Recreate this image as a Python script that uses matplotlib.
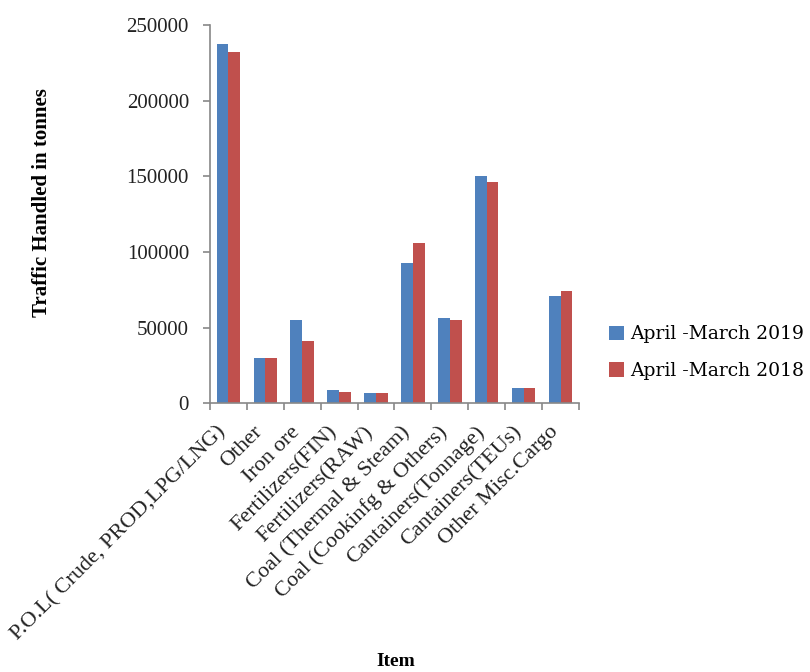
import numpy as np
import matplotlib
matplotlib.use('Agg')
import matplotlib.pyplot as plt
from matplotlib.transforms import ScaledTranslation

items = ['P.O.L( Crude, PROD,LPG/LNG)', 'Other', 'Iron ore', 'Fertilizers(FIN)',
         'Fertilizers(RAW)', 'Coal (Thermal & Steam)', 'Coal (Cookinfg & Others)',
         'Cantainers(Tonnage)', 'Cantainers(TEUs)', 'Other Misc.Cargo']
traffic_2019 = [237400, 30000, 55200, 8800, 6600, 92700, 56300, 150300, 9900, 70600]
traffic_2018 = [231900, 30000, 40800, 7700, 6600, 105900, 55200, 145900, 9900, 73900]
series_labels = ['April -March 2019', 'April -March 2018']
yticks = [0, 50000, 100000, 150000, 200000, 250000]

plt.rcParams['font.family'] = ['Liberation Serif', 'DejaVu Serif']

fig = plt.figure(figsize=(8.1, 6.72), dpi=100)
ax = fig.add_axes([0.259, 0.400, 0.456, 0.563])

x = np.arange(len(items))
w = 0.315
ax.bar(x - w / 2, traffic_2019, w, color='#4F81BD', label=series_labels[0])
ax.bar(x + w / 2, traffic_2018, w, color='#C0504D', label=series_labels[1])

ax.set_xlim(-0.5, len(items) - 0.5)
ax.set_ylim(0, 250000)
ax.set_yticks(yticks)
ax.set_yticklabels([str(v) for v in yticks], fontsize=15, color='#222222')

# category labels at the centres, ticks at the boundaries
ax.set_xticks(x)
labels = ax.set_xticklabels(items, rotation=45, ha='right', va='top', rotation_mode='anchor',
                            fontsize=16, color='#222222')
ax.tick_params(axis='x', length=0, pad=14)
shift = ScaledTranslation(-12 / 100, 0, fig.dpi_scale_trans)
for lab in labels:
    lab.set_transform(lab.get_transform() + shift)
ax.set_xticks(np.arange(len(items) + 1) - 0.5, minor=True)
ax.tick_params(axis='x', which='minor', length=5, color='#888888', width=1.2)
ax.tick_params(axis='y', length=5, color='#888888', width=1.2, pad=10)

for side in ['top', 'right']:
    ax.spines[side].set_visible(False)
for side in ['left', 'bottom']:
    ax.spines[side].set_color('#888888')
    ax.spines[side].set_linewidth(1.2)

fig.text(0.052, 0.698, 'Traffic Handled in tonnes', rotation=90, ha='center', va='center',
         fontsize=15, fontweight='bold')
fig.text(0.488, 0.015, 'Item', ha='center', va='center', fontsize=14, fontweight='bold')

fig.legend(loc='center left', bbox_to_anchor=(0.752, 0.475), frameon=False,
           prop={'family': 'DejaVu Serif', 'size': 13.5},
           handlelength=0.8, handleheight=0.8, handletextpad=0.3,
           labelspacing=1.0, borderaxespad=0, borderpad=0)

fig.savefig('out.png', dpi=100)
